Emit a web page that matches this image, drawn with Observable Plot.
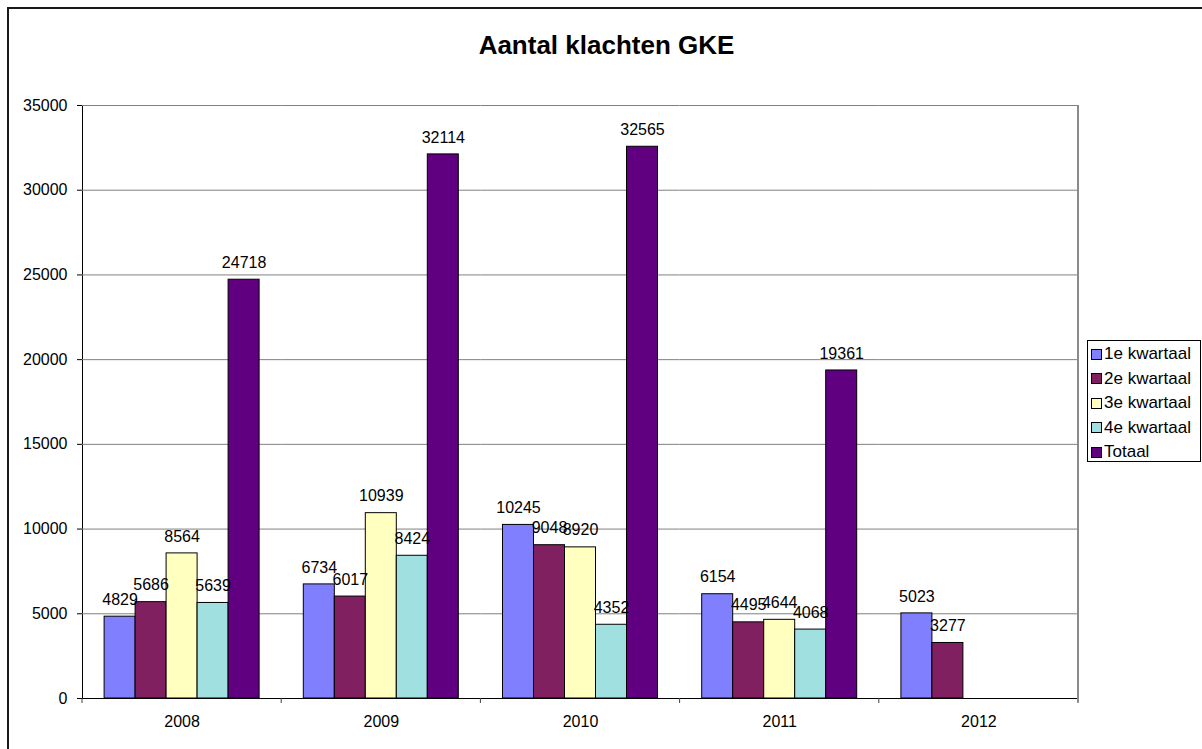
<!DOCTYPE html>
<html>
<head>
<meta charset="utf-8">
<script src="https://cdn.jsdelivr.net/npm/d3@7"></script>
<script src="https://cdn.jsdelivr.net/npm/@observablehq/plot@0.6"></script>
<style>
  html, body { margin: 0; padding: 0; background: #fff; }
  #wrap { position: relative; width: 1202px; height: 749px; overflow: hidden; font-family: "Liberation Sans", Arial, sans-serif; }
  #border { position: absolute; left: 7px; top: 7px; width: 1300px; height: 900px; border-left: 2px solid #1a1a1a; border-top: 2px solid #1a1a1a; }
  #title { position: absolute; left: 0; top: 0; width: 1213px; height: 90px; line-height: 90px; text-align: center; font-weight: bold; font-size: 26px; color: #000; }
  #chart { position: absolute; left: 0; top: 90px; }
  #legend { position: absolute; left: 1087px; top: 340px; width: 114px; height: 122px; border: 1px solid #000; background: #fff; box-sizing: border-box; padding-top: 1px; }
  .item { height: 24.5px; display: flex; align-items: center; font-size: 17px; color: #000; white-space: nowrap; }
  .sw { width: 9px; height: 9px; border: 1px solid #000; margin-left: 3px; margin-right: 2px; flex: none; }
  #chart svg text { font-size: 16px; }
</style>
</head>
<body>
<div id="wrap">
  <div id="border"></div>
  <div id="title">Aantal klachten GKE</div>
  <div id="chart"></div>
  <div id="legend"></div>
</div>
<script>
const years = ["2008", "2009", "2010", "2011", "2012"];
const series = ["1e kwartaal", "2e kwartaal", "3e kwartaal", "4e kwartaal", "Totaal"];
const q1 = [4829, 6734, 10245, 6154, 5023];
const q2 = [5686, 6017, 9048, 4495, 3277];
const q3 = [8564, 10939, 8920, 4644, null];
const q4 = [5639, 8424, 4352, 4068, null];
const totaal = [24718, 32114, 32565, 19361, null];
const colors = ["#8080ff", "#802060", "#ffffc0", "#a0e0e0", "#600080"];
const yTicks = [0, 5000, 10000, 15000, 20000, 25000, 30000, 35000];

const valuesBySeries = [q1, q2, q3, q4, totaal];
const rows = [];
years.forEach((year, i) => {
  series.forEach((s, j) => {
    const v = valuesBySeries[j][i];
    if (v != null) rows.push({year, series: s, value: v});
  });
});

const plot = Plot.plot({
  width: 1202,
  height: 659,
  marginLeft: 82,
  marginRight: 124,
  marginTop: 15,
  marginBottom: 51,
  style: {fontFamily: "Liberation Sans, Arial, sans-serif", fontSize: "16px", color: "#000", background: "transparent"},
  facet: {data: rows, x: "year"},
  fx: {domain: years, paddingInner: 0, paddingOuter: 0, round: false, label: null, tickSize: 0, tickPadding: 17, axis: "bottom"},
  x: {domain: series, paddingInner: 0, paddingOuter: 0.713, round: false, axis: null},
  y: {domain: [0, 35000], ticks: yTicks, tickSize: 5, tickPadding: 10, label: null, line: true, tickFormat: d => String(d)},
  color: {domain: series, range: colors},
  marks: [
    Plot.ruleY(yTicks, {stroke: "#808080", strokeWidth: 1}),
    Plot.barY(rows, {x: "series", y: "value", fill: "series", stroke: "#000", strokeWidth: 1}),
    Plot.text(rows, {x: "series", y: "value", text: d => String(d.value), dy: -17, fontSize: 16, fill: "#000"}),
    Plot.ruleY([0], {stroke: "#000", strokeWidth: 1})
  ]
});
document.getElementById("chart").appendChild(plot);

// Category boundary ticks and right edge of the plot area, positioned from the library's scales
const fx = plot.scale("fx");
const ys = plot.scale("y");
const y0 = ys.apply(0), yTop = ys.apply(35000);
const bounds = years.map(y => fx.apply(y)).concat([fx.apply(years[years.length - 1]) + fx.step]);
const svg = d3.select(plot);
const g = svg.append("g");
g.selectAll("line.bt").data(bounds).join("line")
  .attr("x1", d => d).attr("x2", d => d)
  .attr("y1", y0).attr("y2", y0 + 5)
  .attr("stroke", "#404040").attr("stroke-width", 1);
g.append("line")
  .attr("x1", bounds[bounds.length - 1]).attr("x2", bounds[bounds.length - 1])
  .attr("y1", yTop).attr("y2", y0 + 4)
  .attr("stroke", "#8a8a8a").attr("stroke-width", 2);

// Legend
const legend = document.getElementById("legend");
series.forEach((s, i) => {
  const item = document.createElement("div");
  item.className = "item";
  const sw = document.createElement("span");
  sw.className = "sw";
  sw.style.background = colors[i];
  const t = document.createElement("span");
  t.textContent = s;
  item.appendChild(sw);
  item.appendChild(t);
  legend.appendChild(item);
});
</script>
</body>
</html>
